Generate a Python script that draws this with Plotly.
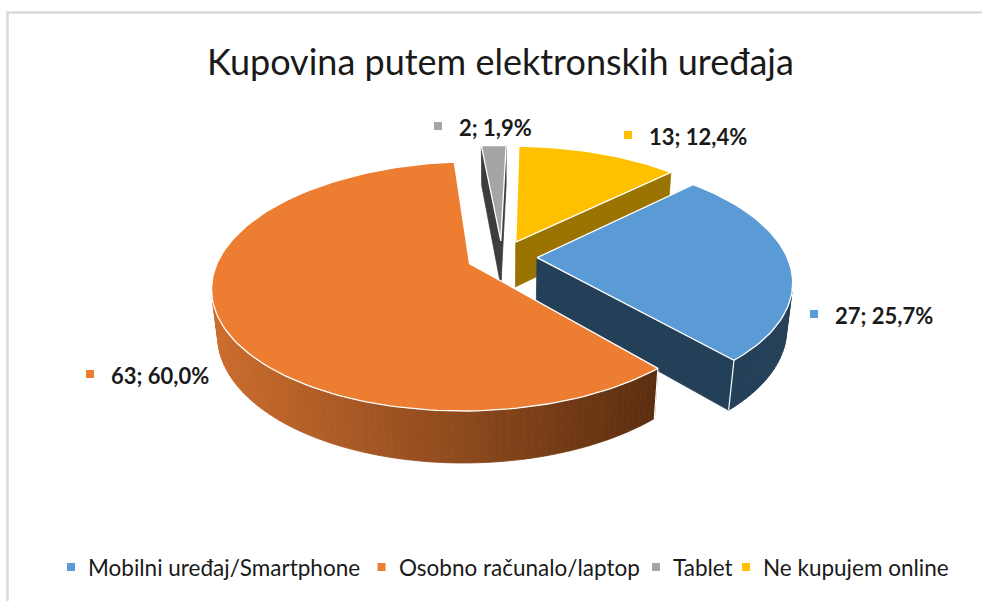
import math
import plotly.graph_objects as go

# ---------------- data ----------------
categories = ["Mobilni uređaj/Smartphone", "Osobno računalo/laptop", "Tablet", "Ne kupujem online"]
counts = [27, 63, 2, 13]
top_colors = ["#5B9BD5", "#ED7D31", "#A5A5A5", "#FFC000"]
side_colors = ["#243F58", "gradient", "#3D3D3D", "#9A7300"]
title_text = "Kupovina putem elektronskih uređaja"

# ---------------- layout / style parameters ----------------
W, H = 982, 601
CX, CY = 502, 257          # screen position of pie centre
SCALE = 250                # pixels per unit radius
PHI = math.radians(28.2)   # elevation of the camera
DIST = 4.89                # camera distance (perspective)
THICK = 0.21               # pie thickness (unit radius = 1)
EXPLODE = 0.14             # explosion distance of every slice
FIRST_ANGLE = 46.0         # angle of first slice (clockwise from 12 o'clock)
ORANGE_LIGHT = (203, 108, 45)
ORANGE_DARK = (92, 46, 16)
FONT = "Lato"

label_square_pos = [(814, 314), (90, 374), (438, 126), (628, 135)]
legend_square_pos = [(71, 567), (381.5, 567), (656, 567), (746, 567)]
LABEL_GAP = 19
LEGEND_GAP = 15

cph, sph = math.cos(PHI), math.sin(PHI)
CAM = (0.0, -DIST * cph, DIST * sph)


def proj(p):
    x, y, z = p
    depth = DIST + y * cph - z * sph
    up = y * sph + z * cph
    f = DIST / depth
    return CX + SCALE * x * f, CY - SCALE * up * f, depth


def visible(normal, pts):
    cx = sum(p[0] for p in pts) / len(pts)
    cy = sum(p[1] for p in pts) / len(pts)
    cz = sum(p[2] for p in pts) / len(pts)
    v = (CAM[0] - cx, CAM[1] - cy, CAM[2] - cz)
    return normal[0] * v[0] + normal[1] * v[1] + normal[2] * v[2] > 0


def mean_depth(pts):
    return sum(proj(p)[2] for p in pts) / len(pts)


total = sum(counts)
side_units = []
top_units = []

ang = FIRST_ANGLE
for i, v in enumerate(counts):
    span = 360.0 * v / total
    a0, a1 = ang, ang + span
    ang = a1
    mid = math.radians((a0 + a1) / 2)
    ox, oy = EXPLODE * math.sin(mid), EXPLODE * math.cos(mid)

    def rim(t, z, ox=ox, oy=oy):
        r = math.radians(t)
        return (ox + math.sin(r), oy + math.cos(r), z)

    n = max(2, int(span / 1.5) + 1)
    arc = [a0 + (a1 - a0) * k / n for k in range(n + 1)]

    # top face
    top_pts = [(ox, oy, 0.0)] + [rim(t, 0.0) for t in arc] + [(ox, oy, 0.0)]
    top_units.append((top_pts, top_colors[i]))

    # curved outer side
    strips = []
    for k in range(n):
        t0, t1 = arc[k], arc[k + 1]
        tm = math.radians((t0 + t1) / 2)
        quad = [rim(t0, 0.0), rim(t1, 0.0), rim(t1, -THICK), rim(t0, -THICK)]
        if visible((math.sin(tm), math.cos(tm), 0.0), quad):
            strips.append((k, quad))
    if strips:
        all_pts = [p for _, q in strips for p in q]
        edges = []
        if strips[0][0] == 0:
            edges.append([rim(a0, 0.0), rim(a0, -THICK)])
        if strips[-1][0] == n - 1:
            edges.append([rim(a1, 0.0), rim(a1, -THICK)])
        side_units.append((mean_depth(all_pts), "curved", i, [q for _, q in strips], edges))

    # radial faces
    for t, rot in ((a0, -90.0), (a1, 90.0)):
        rr = math.radians(t + rot)
        quad = [(ox, oy, 0.0), rim(t, 0.0), rim(t, -THICK), (ox, oy, -THICK)]
        if visible((math.sin(rr), math.cos(rr), 0.0), quad):
            side_units.append((mean_depth(quad), "radial", i, [quad], []))

side_units.sort(key=lambda u: -u[0])

fig = go.Figure()


def add_poly(pts3, fill, line_color, line_width):
    xs, ys = [], []
    for p in pts3:
        sx, sy, _ = proj(p)
        xs.append(sx)
        ys.append(sy)
    xs.append(xs[0])
    ys.append(ys[0])
    fig.add_trace(go.Scatter(x=xs, y=ys, mode="lines", fill="toself", fillcolor=fill,
                             line=dict(color=line_color, width=line_width),
                             hoverinfo="skip", showlegend=False))


def add_line(pts3, color, width):
    xs, ys = [], []
    for p in pts3:
        sx, sy, _ = proj(p)
        xs.append(sx)
        ys.append(sy)
    fig.add_trace(go.Scatter(x=xs, y=ys, mode="lines", line=dict(color=color, width=width),
                             hoverinfo="skip", showlegend=False))


for depth, kind, i, polys, edges in side_units:
    if side_colors[i] == "gradient":
        cxs = [sum(proj(p)[0] for p in q) / 4 for q in polys]
        lo, hi = min(cxs), max(cxs)
        for q, cxv in zip(polys, cxs):
            t = (cxv - lo) / (hi - lo) if hi > lo else 0
            rgb = tuple(round(ORANGE_LIGHT[j] + (ORANGE_DARK[j] - ORANGE_LIGHT[j]) * t) for j in range(3))
            col = "rgb(%d,%d,%d)" % rgb
            add_poly(q, col, col, 0.8)
    else:
        for q in polys:
            add_poly(q, side_colors[i], side_colors[i], 0.8)
    for e in edges:
        add_line(e, "white", 1.2)

for pts, col in top_units:
    add_poly(pts, col, "white", 1.3)

# ---------------- labels ----------------
annotations = []
for i, v in enumerate(counts):
    pct = 100.0 * v / total
    txt = ("%d; %.1f%%" % (v, pct)).replace(".", ",")
    sx, sy = label_square_pos[i]
    fig.add_trace(go.Scatter(x=[sx], y=[sy], mode="markers",
                             marker=dict(symbol="square", size=8, color=top_colors[i]),
                             hoverinfo="skip", showlegend=False))
    annotations.append(dict(x=sx + LABEL_GAP, y=sy + 1, xref="x", yref="y", text="<b>%s</b>" % txt,
                            showarrow=False, xanchor="left", yanchor="middle",
                            font=dict(family=FONT, size=22, color="#1a1a1a")))

# ---------------- legend ----------------
for i, name in enumerate(categories):
    sx, sy = legend_square_pos[i]
    fig.add_trace(go.Scatter(x=[sx], y=[sy], mode="markers",
                             marker=dict(symbol="square", size=8, color=top_colors[i]),
                             hoverinfo="skip", showlegend=False))
    annotations.append(dict(x=sx + LEGEND_GAP, y=sy, xref="x", yref="y", text=name,
                            showarrow=False, xanchor="left", yanchor="middle",
                            font=dict(family=FONT, size=22.5, color="#1a1a1a")))

annotations.append(dict(x=500, y=61, xref="x", yref="y", text=title_text, showarrow=False,
                        xanchor="center", yanchor="middle",
                        font=dict(family=FONT, size=36, color="#1a1a1a")))

fig.update_layout(
    width=W, height=H,
    margin=dict(l=0, r=0, t=0, b=0),
    paper_bgcolor="white", plot_bgcolor="white",
    xaxis=dict(range=[0, W], visible=False, fixedrange=True),
    yaxis=dict(range=[H, 0], visible=False, fixedrange=True),
    annotations=annotations,
    shapes=[dict(type="rect", xref="x", yref="y", x0=7.5, y0=12.5, x1=W + 5, y1=H + 5,
                 line=dict(color="#D9D9D9", width=2.5), fillcolor="rgba(0,0,0,0)", layer="below")],
    showlegend=False,
)

fig.write_html("out.html")
